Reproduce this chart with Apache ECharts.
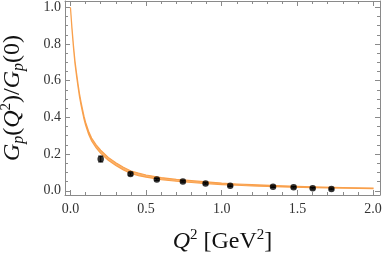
<!DOCTYPE html>
<html><head><meta charset="utf-8">
<script src="https://cdn.jsdelivr.net/npm/echarts@6/dist/echarts.min.js"></script>
<style>html,body{margin:0;padding:0;background:#fff}#c{width:382px;height:255px}</style>
</head><body><div id="c"></div>
<script>
// Band (theory curve with uncertainty)
const bandX =     [0, 0.01, 0.02, 0.03, 0.04, 0.05, 0.06, 0.07, 0.08, 0.09, 0.10, 0.12, 0.14, 0.17, 0.20, 0.25, 0.30, 0.35, 0.40, 0.45, 0.50, 0.60, 0.70, 0.80, 0.90, 1.00, 1.10, 1.20, 1.40, 1.60, 1.80, 2.00];
const bandLower = [0.999, 0.881, 0.779, 0.693, 0.627, 0.567, 0.512, 0.467, 0.427, 0.389, 0.358, 0.308, 0.271, 0.234, 0.204, 0.166, 0.138, 0.114, 0.094, 0.083, 0.074, 0.061, 0.052, 0.045, 0.039, 0.034, 0.030, 0.026, 0.021, 0.017, 0.014, 0.011];
const bandUpper = [1.000, 0.889, 0.791, 0.707, 0.643, 0.583, 0.528, 0.483, 0.443, 0.405, 0.374, 0.324, 0.287, 0.250, 0.221, 0.182, 0.153, 0.128, 0.108, 0.096, 0.086, 0.072, 0.062, 0.055, 0.049, 0.042, 0.037, 0.033, 0.027, 0.022, 0.018, 0.015];
// Data points
const qsq   = [0.200, 0.397, 0.571, 0.743, 0.893, 1.056, 1.339, 1.475, 1.601, 1.725];
const gp    = [0.173, 0.091, 0.062, 0.051, 0.040, 0.027, 0.022, 0.019, 0.014, 0.010];
const gpErr = [0.016, 0.006, 0.005, 0.004, 0.004, 0.004, 0.004, 0.004, 0.004, 0.004];
// Ticks
const xMajorTicks = [0, 0.5, 1.0, 1.5, 2.0];
const xMinorTicks = [0.1, 0.2, 0.3, 0.4, 0.6, 0.7, 0.8, 0.9, 1.1, 1.2, 1.3, 1.4, 1.6, 1.7, 1.8, 1.9];
const yMajorTicks = [0, 0.2, 0.4, 0.6, 0.8, 1.0];
const yMinorTicks = [0.05, 0.10, 0.15, 0.25, 0.30, 0.35, 0.45, 0.50, 0.55, 0.65, 0.70, 0.75, 0.85, 0.90, 0.95];

const xMin = -0.036, xMax = 2.046, yMin = -0.023, yMax = 1.034;
const frameColor = '#8a8a8a';
const serif = "'Liberation Serif', 'Times New Roman', serif";

function axis(kind, pos, ticks, len, showLabel, showLine) {
  const isX = kind === 'x';
  return {
    type: 'value', position: pos,
    min: isX ? xMin : yMin, max: isX ? xMax : yMax,
    axisLine: { show: showLine, onZero: false, lineStyle: { color: frameColor, width: 1 } },
    axisTick: { show: true, inside: true, length: len, customValues: ticks, lineStyle: { color: frameColor, width: 1 } },
    axisLabel: { show: showLabel, customValues: ticks, formatter: v => v.toFixed(1),
      fontFamily: serif, fontSize: 14, color: '#333', margin: isX ? 7 : 4 },
    splitLine: { show: false }
  };
}

const xAxes = [
  axis('x', 'bottom', xMajorTicks, 5, true, true),
  axis('x', 'bottom', xMinorTicks, 3, false, false),
  axis('x', 'top', xMajorTicks, 5, false, true),
  axis('x', 'top', xMinorTicks, 3, false, false)
];
const yAxes = [
  axis('y', 'left', yMajorTicks, 5, true, true),
  axis('y', 'left', yMinorTicks, 3, false, false),
  axis('y', 'right', yMajorTicks, 5, false, true),
  axis('y', 'right', yMinorTicks, 3, false, false)
];

const richStyles = {
  i: { fontFamily: serif, fontStyle: 'italic', fontSize: 24, color: '#111', lineHeight: 28 },
  n: { fontFamily: serif, fontSize: 24, color: '#111', lineHeight: 28 },
  sub: { fontFamily: serif, fontStyle: 'italic', fontSize: 16, color: '#111', verticalAlign: 'bottom', lineHeight: 12 },
  sup: { fontFamily: serif, fontSize: 15, color: '#111', verticalAlign: 'top', lineHeight: 20 }
};
xAxes[0].name = '{i|Q}{sup|2}{n| [GeV}{sup|2}{n|]}';
xAxes[0].nameLocation = 'middle';
xAxes[0].nameGap = 33;
xAxes[0].nameTextStyle = { rich: richStyles };
yAxes[0].name = '{i|G}{sub|p}{n|(}{i|Q}{sup|2}{n|)/}{i|G}{sub|p}{n|(0)}';
yAxes[0].nameLocation = 'middle';
yAxes[0].nameRotate = 90;
yAxes[0].nameGap = 38;
yAxes[0].nameTextStyle = { rich: richStyles };

const pointData = qsq.map((q, i) => [q, gp[i], gpErr[i]]);

const chart = echarts.init(document.getElementById('c'), null, { renderer: 'canvas' });
chart.setOption({
  animation: false,
  backgroundColor: '#fff',
  grid: { left: 65, right: 2, top: 1, bottom: 60, outerBoundsMode: 'none', containLabel: false },
  xAxis: xAxes,
  yAxis: yAxes,
  series: [
    {
      type: 'custom', xAxisIndex: 0, yAxisIndex: 0, z: 2,
      data: [[0, 0]],
      renderItem: function (params, api) {
        const pts = [];
        for (let i = 0; i < bandX.length; i++) pts.push(api.coord([bandX[i], bandUpper[i]]));
        for (let i = bandX.length - 1; i >= 0; i--) pts.push(api.coord([bandX[i], bandLower[i]]));
        return { type: 'polygon', shape: { points: pts, smooth: 0 },
          style: { fill: '#fcb36c', stroke: '#f9a04c', lineWidth: 1.2 } };
      }
    },
    {
      type: 'custom', xAxisIndex: 0, yAxisIndex: 0, z: 3,
      data: pointData,
      renderItem: function (params, api) {
        const x = api.value(0), y = api.value(1), e = api.value(2);
        const top = api.coord([x, y + e]);
        const bot = api.coord([x, y - e]);
        const st = { stroke: '#000', lineWidth: 1 };
        return { type: 'group', children: [
          { type: 'line', shape: { x1: top[0], y1: top[1], x2: bot[0], y2: bot[1] }, style: st },
          { type: 'line', shape: { x1: top[0] - 2.5, y1: top[1], x2: top[0] + 2.5, y2: top[1] }, style: st },
          { type: 'line', shape: { x1: bot[0] - 2.5, y1: bot[1], x2: bot[0] + 2.5, y2: bot[1] }, style: st }
        ] };
      }
    },
    {
      type: 'scatter', xAxisIndex: 0, yAxisIndex: 0, z: 4,
      data: pointData.map(p => [p[0], p[1]]),
      symbol: 'circle', symbolSize: 6.5,
      itemStyle: { color: '#000' }
    }
  ]
});
</script>
</body></html>
